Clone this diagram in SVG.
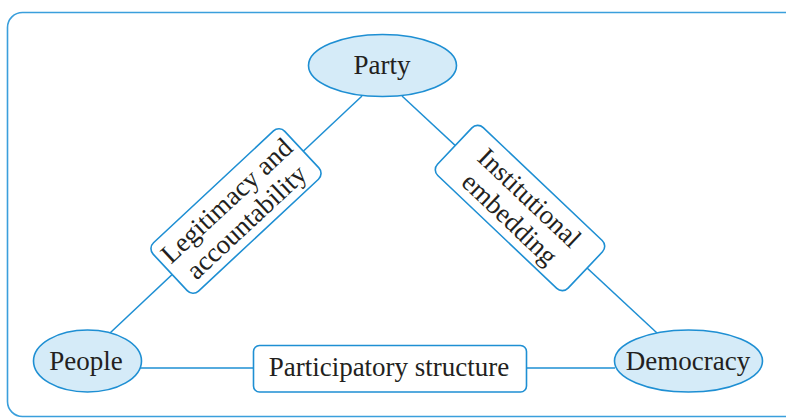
<svg xmlns="http://www.w3.org/2000/svg" width="786" height="419" viewBox="0 0 786 419">
<style>
.frame{fill:none;stroke:#3a9fdc;stroke-width:1.6}
.ell{fill:#d5ebf8;stroke:#1e8fd3;stroke-width:1.6}
.box{fill:#ffffff;stroke:#1e8fd3;stroke-width:1.6}
.conn{stroke:#1e8fd3;stroke-width:1.5;fill:none}
text{font-family:"Liberation Serif","Times New Roman",serif;font-size:27px;fill:#231f20;text-anchor:middle}
</style>
<rect width="786" height="419" fill="#ffffff"/>
<rect class="frame" x="7.5" y="12.5" width="810" height="404" rx="15"/>
<g id="connectors">
<line class="conn" x1="362" y1="96" x2="110" y2="333"/>
<line class="conn" x1="402" y1="96" x2="657" y2="333"/>
<line class="conn" x1="140" y1="368" x2="254" y2="368"/>
<line class="conn" x1="526" y1="368" x2="615" y2="368"/>
</g>
<g id="party">
<ellipse class="ell" cx="382.5" cy="65.5" rx="74" ry="31"/>
<text x="382" y="74">Party</text>
</g>
<g id="people">
<ellipse class="ell" cx="87.5" cy="361" rx="54" ry="31"/>
<text x="86" y="370">People</text>
</g>
<g id="democracy">
<ellipse class="ell" cx="688.5" cy="361" rx="74" ry="31"/>
<text x="688" y="370">Democracy</text>
</g>
<g id="participatory">
<rect class="box" x="253.5" y="345.5" width="273" height="46.5" rx="6"/>
<text x="389" y="376">Participatory structure</text>
</g>
<g id="legitimacy" transform="translate(236,211) rotate(-43)">
<rect class="box" x="-90" y="-33" width="180" height="66" rx="8"/>
<text x="0" y="-5">Legitimacy and</text>
<text x="0" y="24">accountability</text>
</g>
<g id="institutional" transform="translate(520,208) rotate(43.5)">
<rect class="box" x="-90" y="-33" width="180" height="66" rx="8"/>
<text x="0" y="-5">Institutional</text>
<text x="0" y="24">embedding</text>
</g>
</svg>
